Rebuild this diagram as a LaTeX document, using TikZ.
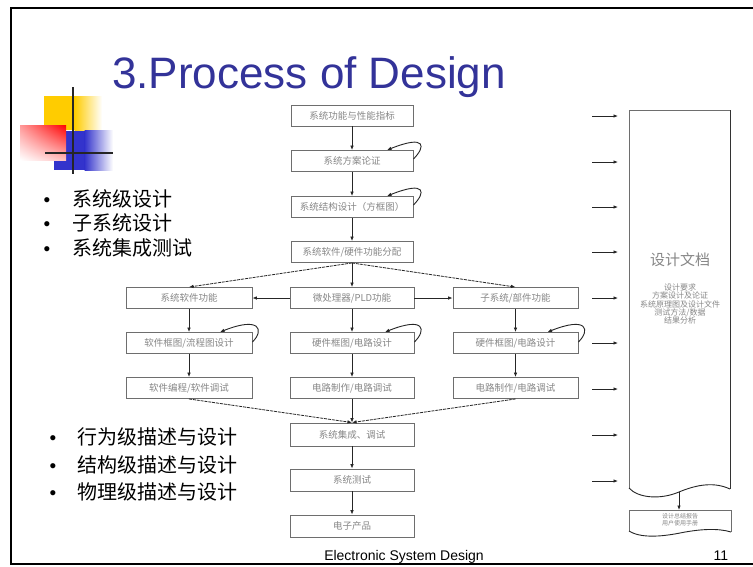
\documentclass[tikz,border=0pt]{standalone}
\usepackage{fontspec}
\setmainfont{Liberation Sans}
\newfontfamily\cjk{Noto Sans CJK SC}
\usetikzlibrary{arrows.meta,calc,shadings}
\definecolor{titleblue}{RGB}{51,51,153}
\definecolor{logoyellow}{RGB}{255,204,0}
\definecolor{logoblue}{RGB}{51,51,204}
\definecolor{boxgray}{RGB}{110,110,110}
\definecolor{textgray}{RGB}{135,135,135}

\begin{document}
\begin{tikzpicture}[x=1pt,y=-1pt,
  stepbox/.style={draw=boxgray, line width=0.9pt, fill=white, minimum height=21pt,
    inner sep=0pt, font=\cjk\fontsize{9.5}{10}\selectfont, text=textgray},
  arr/.style={-{Latex[length=4.5pt,width=3.6pt]}, line width=0.8pt, draw=black!85},
  dasharr/.style={arr, dash pattern=on 3pt off 0.9pt},
  loopline/.style={arr, line width=0.9pt},
  bullet/.style={anchor=base, inner sep=0pt, font=\fontsize{19}{19}\selectfont},
  bultext/.style={anchor=base west, inner sep=0pt, font=\cjk\fontsize{20}{20}\selectfont},
]
\useasboundingbox (0,0) rectangle (753,566);
\fill[white] (0,0) rectangle (753,566);

% slide frame
\draw[line width=2.4pt, black] (753,8) -- (11,8) -- (11,564) -- (753,564);

% corner logo
\fill[logoyellow] (44,96) rectangle (75,130);
\shade[left color=logoyellow, right color=white] (74.5,96) rectangle (102,130);
\fill[logoblue] (54,131) rectangle (85,170);
\shade[left color=logoblue, right color=white] (84.5,130) rectangle (113,170);
\shade[upper right=red, upper left=red!40, lower left=white, lower right=red!25] (20,125) rectangle (66,160);
\draw[line width=2.5pt, black!85] (73,87) -- (73,174);
\draw[line width=2.5pt, black!85] (45,153) -- (113,153);

% title
\node[anchor=base west, inner sep=0pt, text=titleblue, font=\fontsize{44}{44}\selectfont] (title) at (112,88) {3.Process of Design};

% bullet lists
\node[bullet] (d1) at (47,206) {•};
\node[bultext] (t1) at (72,206.5) {系统级设计};
\node[bullet] (d2) at (47,230) {•};
\node[bultext] (t2) at (72,230.5) {子系统设计};
\node[bullet] (d3) at (47,255) {•};
\node[bultext] (t3) at (72,255.5) {系统集成测试};

\node[bullet] (d4) at (53,444) {•};
\node[bultext] (t4) at (77,444.5) {行为级描述与设计};
\node[bullet] (d5) at (53,472) {•};
\node[bultext] (t5) at (77,472.5) {结构级描述与设计};
\node[bullet] (d6) at (53,499) {•};
\node[bultext] (t6) at (77,499.5) {物理级描述与设计};

% flow chart boxes
\node[stepbox, minimum width=122pt] (b1) at (352,115.5) {系统功能与性能指标};
\node[stepbox, minimum width=122pt] (b2) at (352,161) {系统方案论证};
\node[stepbox, minimum width=122pt] (b3) at (352,207) {系统结构设计（方框图）};
\node[stepbox, minimum width=122pt] (b4) at (352,252) {系统软件/硬件功能分配};

\node[stepbox, minimum width=126pt] (lA) at (189,298) {系统软件功能};
\node[stepbox, minimum width=124pt] (mA) at (352,298) {微处理器/PLD功能};
\node[stepbox, minimum width=125pt] (rA) at (515.5,298) {子系统/部件功能};

\node[stepbox, minimum width=126pt] (lB) at (189,343) {软件框图/流程图设计};
\node[stepbox, minimum width=124pt] (mB) at (352,343) {硬件框图/电路设计};
\node[stepbox, minimum width=125pt] (rB) at (515.5,343) {硬件框图/电路设计};

\node[stepbox, minimum width=126pt] (lC) at (189,388) {软件编程/软件调试};
\node[stepbox, minimum width=124pt] (mC) at (352,388) {电路制作/电路调试};
\node[stepbox, minimum width=125pt] (rC) at (515.5,388) {电路制作/电路调试};

\node[stepbox, minimum width=124pt, minimum height=23pt] (c1) at (352,434.5) {系统集成、调试};
\node[stepbox, minimum width=124pt, minimum height=22pt] (c2) at (352,480) {系统测试};
\node[stepbox, minimum width=124pt, minimum height=22pt] (c3) at (352,526) {电子产品};

% flow arrows
\draw[arr] (b1) -- (b2);
\draw[arr] (b2) -- (b3);
\draw[arr] (b3) -- (b4);
\draw[arr] (b4) -- (mA);
\draw[dasharr] (b4.south) -- (lA.north);
\draw[dasharr] (b4.south) -- (rA.north);
\draw[arr] (mA) -- (lA);
\draw[arr] (mA) -- (rA);
\draw[arr] (lA) -- (lB);
\draw[arr] (lB) -- (lC);
\draw[arr] (mA) -- (mB);
\draw[arr] (mB) -- (mC);
\draw[arr] (rA) -- (rB);
\draw[arr] (rB) -- (rC);
\draw[arr] (mC) -- (c1);
\draw[dasharr] (lC.south) -- (c1.north);
\draw[dasharr] (rC.south) -- (c1.north);
\draw[arr] (c1) -- (c2);
\draw[arr] (c2) -- (c3);

% iteration loops
\draw[loopline] ([yshift=2pt]b2.east) .. controls +(12,-12) and +(40,-16) .. ([xshift=35pt]b2.north);
\draw[loopline] ([yshift=2pt]b3.east) .. controls +(12,-12) and +(40,-16) .. ([xshift=35pt]b3.north);
\draw[loopline] ([yshift=1pt]lB.east) .. controls +(12,-12) and +(40,-16) .. ([xshift=31pt]lB.north);
\draw[loopline] ([yshift=1pt]mB.east) .. controls +(12,-12) and +(40,-16) .. ([xshift=33pt]mB.north);
\draw[loopline] ([yshift=1pt]rB.east) .. controls +(12,-12) and +(40,-16) .. ([xshift=32pt]rB.north);

% arrows into the design documents
\foreach \yy [count=\i] in {116,162,207,252,298,343,389,435,481} {
  \coordinate (s\i) at (592,\yy);
  \coordinate (e\i) at (618,\yy);
  \draw[arr] (s\i) -- (e\i);
}

% design document
\draw[boxgray, line width=0.9pt] (629,488) -- (629,110) -- (730,110) -- (730,489);
\draw[black!80, line width=1.4pt] (730.5,110) -- (730.5,489);
\draw[black!85, line width=0.9pt] (629,488) .. controls (638,498) and (660,500) .. (679,492)
  .. controls (698,484) and (715,482) .. (730,489);
\node[font=\cjk\fontsize{15}{15}\selectfont, text=textgray] (doctitle) at (680,260) {设计文档};
\node[font=\cjk\fontsize{8}{8.2}\selectfont, text=textgray, align=center, inner sep=0pt] (doclist) at (680,304)
  {设计要求\\方案设计及论证\\系统原理图及设计文件\\测试方法/数据\\结果分析};

% final report document
\coordinate (wavemid) at (679,492);
\coordinate (reporttop) at (679,510);
\draw[arr] (wavemid) -- (reporttop);
\draw[boxgray, line width=0.9pt] (629,531) -- (629,510) -- (731,510) -- (731,532);
\draw[black!85, line width=0.9pt] (629,531) .. controls (640,538) and (660,537) .. (680,533)
  .. controls (700,529) and (718,528) .. (731,532);
\node[font=\cjk\fontsize{6}{7}\selectfont, text=textgray, align=center, inner sep=0pt] (report) at (680,520)
  {设计总结报告\\用户使用手册};

% footer
\node[anchor=base, inner sep=0pt, font=\fontsize{14}{14}\selectfont] (footer) at (404,560) {Electronic System Design};
\node[anchor=base, inner sep=0pt, font=\fontsize{14}{14}\selectfont] (pagenum) at (721,560) {11};
\end{tikzpicture}
\end{document}
